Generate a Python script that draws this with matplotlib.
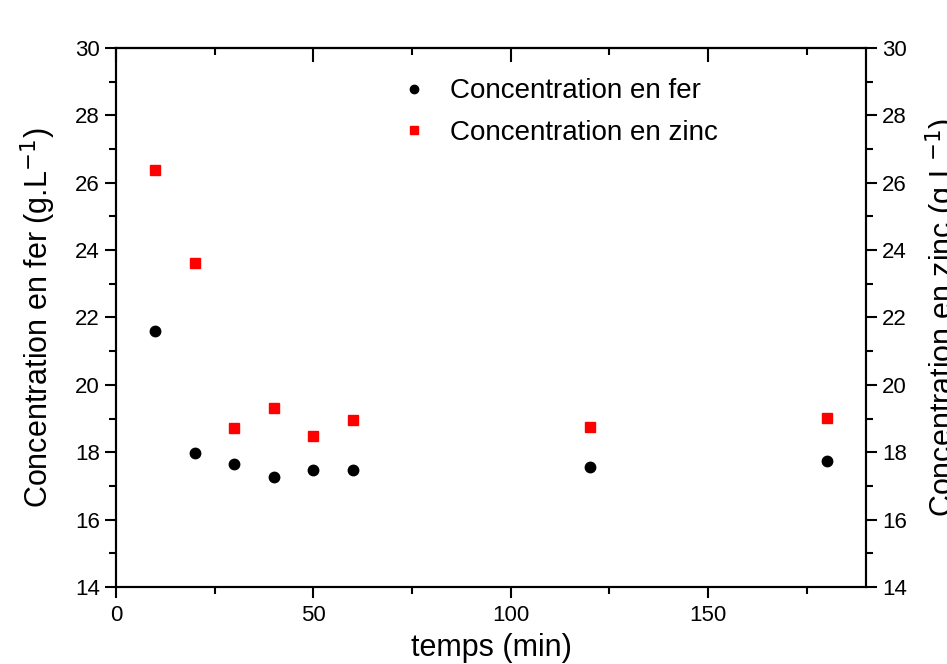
import matplotlib
matplotlib.use("Agg")
import matplotlib.pyplot as plt
from matplotlib.ticker import MultipleLocator

plt.rcParams['font.family'] = ['Liberation Sans', 'DejaVu Sans']

# sampling times (min)
temps = [10, 20, 30, 40, 50, 60, 120, 180]
# iron and zinc concentrations (g/L)
fer = [21.6, 17.97, 17.66, 17.27, 17.46, 17.46, 17.57, 17.75]
zinc = [26.38, 23.63, 18.72, 19.31, 18.49, 18.96, 18.76, 19.02]

fig = plt.figure(figsize=(9.47, 6.64), dpi=100)
ax = fig.add_axes([0.1225, 0.116, 0.792, 0.8117])
ax2 = ax.twinx()

h1, = ax.plot(temps, fer, 'o', color='black', markersize=7.5, label='Concentration en fer')
h2, = ax2.plot(temps, zinc, 's', color='red', markersize=7, label='Concentration en zinc')

for a in (ax, ax2):
    a.set_ylim(14, 30)
    a.yaxis.set_major_locator(MultipleLocator(2))
    a.yaxis.set_minor_locator(MultipleLocator(1))
    for s in a.spines.values():
        s.set_linewidth(1.5)

ax.set_xlim(0, 190)
ax.xaxis.set_major_locator(MultipleLocator(50))
ax.xaxis.set_minor_locator(MultipleLocator(25))

ax.tick_params(axis='x', which='both', direction='out', top=False, labelsize=16, width=1.5, pad=5)
ax.tick_params(axis='x', which='major', length=8)
ax.tick_params(axis='x', which='minor', length=5)
ax.tick_params(axis='y', which='both', direction='out', right=False, labelsize=16, width=1.5)
ax.tick_params(axis='y', which='major', length=8)
ax.tick_params(axis='y', which='minor', length=5)
ax2.tick_params(axis='y', which='both', direction='out', labelsize=16, width=1.5)
ax2.tick_params(axis='y', which='major', length=8)
ax2.tick_params(axis='y', which='minor', length=5)

# inward ticks on the top edge
top = ax.secondary_xaxis('top')
top.xaxis.set_major_locator(MultipleLocator(50))
top.xaxis.set_minor_locator(MultipleLocator(25))
top.tick_params(which='both', direction='in', labeltop=False, width=1.5)
top.tick_params(which='major', length=10)
top.tick_params(which='minor', length=5)
top.spines['top'].set_linewidth(1.5)

ax.set_xlabel('temps (min)', fontsize=22, labelpad=5)
ax.set_ylabel('Concentration en fer (g.L$^{-1}$)', fontsize=22, labelpad=12)
ax2.set_ylabel('Concentration en zinc (g.L$^{-1}$)', fontsize=22, rotation=90, labelpad=12)

ax.legend(handles=[h1, h2], loc='upper left', bbox_to_anchor=(0.345, 0.99),
          frameon=False, fontsize=20, markerscale=0.8, handletextpad=0.8,
          labelspacing=0.55, handlelength=1.0)

fig.savefig('out.png', dpi=100)
